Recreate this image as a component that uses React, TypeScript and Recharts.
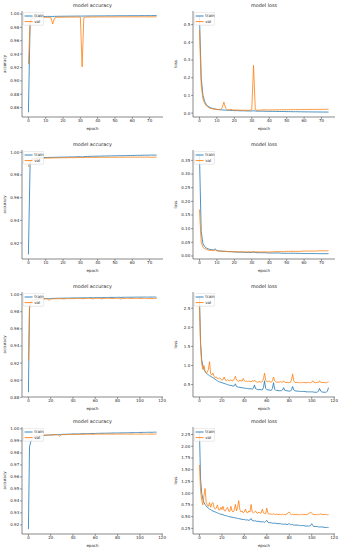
import React from 'react';
import { LineChart, Line, XAxis, YAxis, Legend, Label } from 'recharts';

// ---------- data ----------
const acc1Train = [0.853, 0.990, 0.995, 0.9955, 0.9958, 0.996, 0.9961, 0.9962, 0.9962, 0.9963,
  0.9963, 0.9964, 0.9964, 0.9964, 0.9963, 0.9965, 0.9965, 0.9966, 0.9966, 0.9966,
  0.9967, 0.9967, 0.9967, 0.9968, 0.9968, 0.9968, 0.9968, 0.9969, 0.9969, 0.9969,
  0.9969, 0.9968, 0.997, 0.997, 0.997, 0.997, 0.9971, 0.9971, 0.9971, 0.9971,
  0.9972, 0.9972, 0.9972, 0.9972, 0.9972, 0.9973, 0.9973, 0.9973, 0.9973, 0.9973,
  0.9973, 0.9974, 0.9974, 0.9974, 0.9974, 0.9974, 0.9974, 0.9974, 0.9975, 0.9975,
  0.9975, 0.9975, 0.9975, 0.9975, 0.9975, 0.9976, 0.9976, 0.9976, 0.9976, 0.9976,
  0.9976, 0.9976, 0.9977, 0.9977, 0.9977];
const acc1Val = [0.925, 0.987, 0.992, 0.9935, 0.9942, 0.9946, 0.9944, 0.9948, 0.9947, 0.995,
  0.9949, 0.9951, 0.995, 0.9945, 0.985, 0.9935, 0.995, 0.9952, 0.9951, 0.9953,
  0.9952, 0.9953, 0.9953, 0.9954, 0.9953, 0.9954, 0.9954, 0.9954, 0.9955, 0.9954,
  0.9953, 0.921, 0.995, 0.9954, 0.9955, 0.9955, 0.9955, 0.9956, 0.9955, 0.9956,
  0.9956, 0.9956, 0.9956, 0.9956, 0.9957, 0.9956, 0.9957, 0.9957, 0.9957, 0.9957,
  0.9957, 0.9957, 0.9957, 0.9957, 0.9958, 0.9957, 0.9958, 0.9958, 0.9958, 0.9958,
  0.9958, 0.9958, 0.9958, 0.9958, 0.9958, 0.9958, 0.9958, 0.9958, 0.9958, 0.9958,
  0.9958, 0.9958, 0.9958, 0.9958, 0.9958];

const loss1Train = [0.55, 0.2, 0.1, 0.065, 0.048, 0.038, 0.032, 0.028, 0.025, 0.023,
  0.021, 0.02, 0.019, 0.018, 0.017, 0.017, 0.016, 0.016, 0.015, 0.015,
  0.014, 0.014, 0.014, 0.013, 0.013, 0.013, 0.013, 0.012, 0.012, 0.012,
  0.012, 0.013, 0.012, 0.011, 0.011, 0.011, 0.011, 0.011, 0.01, 0.01,
  0.01, 0.01, 0.01, 0.0095, 0.0095, 0.0093, 0.009, 0.009, 0.009, 0.0088,
  0.0085, 0.0085, 0.0083, 0.008, 0.008, 0.008, 0.0078, 0.0075, 0.0075, 0.0073,
  0.0072, 0.007, 0.007, 0.0068, 0.0067, 0.0066, 0.0065, 0.0064, 0.0063, 0.0062,
  0.0061, 0.006, 0.006, 0.0059, 0.0058];
const loss1Val = [0.47, 0.16, 0.08, 0.055, 0.04, 0.033, 0.028, 0.025, 0.023, 0.022,
  0.021, 0.02, 0.02, 0.03, 0.062, 0.028, 0.019, 0.018, 0.022, 0.018,
  0.017, 0.017, 0.017, 0.017, 0.016, 0.016, 0.016, 0.016, 0.016, 0.016,
  0.02, 0.27, 0.02, 0.016, 0.016, 0.017, 0.018, 0.019, 0.018, 0.018,
  0.018, 0.018, 0.018, 0.018, 0.019, 0.018, 0.019, 0.019, 0.019, 0.019,
  0.019, 0.019, 0.02, 0.019, 0.02, 0.02, 0.02, 0.02, 0.02, 0.02,
  0.02, 0.021, 0.02, 0.021, 0.021, 0.021, 0.021, 0.021, 0.021, 0.021,
  0.021, 0.022, 0.021, 0.022, 0.022];

const acc2Train = [0.910, 0.992, 0.9942, 0.9946, 0.9948, 0.995, 0.9951, 0.9952, 0.9952, 0.9953,
  0.9954, 0.9954, 0.9955, 0.9955, 0.9955, 0.9956, 0.9956, 0.9956, 0.9957, 0.9957,
  0.9957, 0.9958, 0.9958, 0.9958, 0.9959, 0.9959, 0.9959, 0.996, 0.996, 0.9961,
  0.9962, 0.9958, 0.9962, 0.9963, 0.9963, 0.9964, 0.9964, 0.9965, 0.9965, 0.9965,
  0.9966, 0.9966, 0.9966, 0.9967, 0.9967, 0.9967, 0.9968, 0.9968, 0.9968, 0.9969,
  0.9969, 0.9969, 0.997, 0.997, 0.997, 0.997, 0.9971, 0.9971, 0.9971, 0.9972,
  0.9972, 0.9972, 0.9973, 0.9973, 0.9973, 0.9973, 0.9974, 0.9974, 0.9974, 0.9974,
  0.9975, 0.9975, 0.9975, 0.9975, 0.9975];
const acc2Val = [0.987, 0.9925, 0.9935, 0.994, 0.9942, 0.9944, 0.9945, 0.9946, 0.9947, 0.9948,
  0.9948, 0.9949, 0.9949, 0.995, 0.995, 0.995, 0.9951, 0.9951, 0.9951, 0.9952,
  0.9952, 0.9952, 0.9951, 0.9953, 0.9953, 0.9953, 0.9952, 0.9953, 0.9954, 0.9954,
  0.9954, 0.9953, 0.9954, 0.9954, 0.9955, 0.9955, 0.9955, 0.9954, 0.9955, 0.9955,
  0.9955, 0.9955, 0.9956, 0.9956, 0.9956, 0.9955, 0.9956, 0.9956, 0.9956, 0.9956,
  0.9956, 0.9956, 0.9956, 0.9957, 0.9957, 0.9956, 0.9957, 0.9957, 0.9957, 0.9957,
  0.9957, 0.9957, 0.9957, 0.9956, 0.9957, 0.9957, 0.9957, 0.9957, 0.9957, 0.9957,
  0.9957, 0.9956, 0.9957, 0.9957, 0.9957];

const loss2Train = [0.37, 0.09, 0.045, 0.034, 0.029, 0.026, 0.024, 0.023, 0.022, 0.026,
  0.02, 0.019, 0.018, 0.018, 0.017, 0.017, 0.016, 0.016, 0.016, 0.015,
  0.015, 0.015, 0.014, 0.014, 0.014, 0.014, 0.013, 0.013, 0.013, 0.013,
  0.013, 0.014, 0.013, 0.012, 0.012, 0.012, 0.012, 0.012, 0.012, 0.011,
  0.011, 0.011, 0.011, 0.011, 0.011, 0.011, 0.011, 0.01, 0.01, 0.01,
  0.01, 0.01, 0.01, 0.01, 0.01, 0.01, 0.0095, 0.0095, 0.0095, 0.0093,
  0.009, 0.009, 0.009, 0.009, 0.009, 0.0088, 0.0088, 0.0087, 0.0087, 0.0086,
  0.0086, 0.0085, 0.0085, 0.0085, 0.0085];
const loss2Val = [0.17, 0.05, 0.032, 0.027, 0.024, 0.022, 0.021, 0.02, 0.02, 0.022,
  0.019, 0.018, 0.018, 0.017, 0.017, 0.017, 0.016, 0.016, 0.016, 0.016,
  0.016, 0.015, 0.015, 0.015, 0.015, 0.015, 0.015, 0.015, 0.015, 0.015,
  0.015, 0.016, 0.015, 0.015, 0.015, 0.015, 0.015, 0.015, 0.015, 0.015,
  0.015, 0.015, 0.015, 0.016, 0.016, 0.016, 0.016, 0.016, 0.016, 0.016,
  0.017, 0.017, 0.017, 0.017, 0.017, 0.017, 0.017, 0.017, 0.017, 0.018,
  0.018, 0.018, 0.018, 0.018, 0.018, 0.018, 0.018, 0.018, 0.019, 0.019,
  0.019, 0.019, 0.019, 0.019, 0.019];

const acc3Train = [0.886, 0.984, 0.991, 0.9928, 0.9936, 0.994, 0.9943, 0.9945, 0.9947, 0.9948,
  0.995, 0.9951, 0.9952, 0.9952, 0.9953, 0.9954, 0.9954, 0.9955, 0.9955, 0.9953,
  0.9955, 0.9956, 0.9956, 0.9957, 0.9957, 0.9957, 0.9958, 0.9958, 0.9958, 0.9959,
  0.9959, 0.9959, 0.9958, 0.996, 0.996, 0.996, 0.996, 0.9961, 0.9961, 0.9961,
  0.9961, 0.9962, 0.9962, 0.9962, 0.9962, 0.9963, 0.9963, 0.9963, 0.9963, 0.9961,
  0.9964, 0.9964, 0.9964, 0.9964, 0.9965, 0.9965, 0.9965, 0.9964, 0.9962, 0.9965,
  0.9966, 0.9966, 0.9966, 0.9966, 0.9966, 0.9965, 0.9963, 0.9966, 0.9967, 0.9967,
  0.9967, 0.9967, 0.9967, 0.9968, 0.9968, 0.9967, 0.9968, 0.9968, 0.9968, 0.9968,
  0.9969, 0.9969, 0.9969, 0.9966, 0.9969, 0.9969, 0.9969, 0.997, 0.997, 0.997,
  0.997, 0.997, 0.997, 0.997, 0.997, 0.9971, 0.9971, 0.9971, 0.9971, 0.9971,
  0.9971, 0.9971, 0.9971, 0.9972, 0.9972, 0.9972, 0.9972, 0.997, 0.9972, 0.9972,
  0.9972, 0.9972, 0.9972, 0.9972, 0.9971, 0.997];
const acc3Val = [0.923, 0.985, 0.9915, 0.993, 0.9938, 0.9942, 0.9944, 0.9945, 0.9947, 0.9948,
  0.9949, 0.995, 0.995, 0.995, 0.9951, 0.9951, 0.9951, 0.9948, 0.994, 0.9935,
  0.9948, 0.9951, 0.9952, 0.9952, 0.9952, 0.9952, 0.9953, 0.9953, 0.9953, 0.9953,
  0.9953, 0.9952, 0.9949, 0.9953, 0.9954, 0.9954, 0.9954, 0.9954, 0.9953, 0.9954,
  0.9954, 0.9954, 0.9955, 0.9955, 0.9955, 0.9955, 0.9955, 0.9955, 0.9954, 0.9952,
  0.9955, 0.9955, 0.9955, 0.9955, 0.9956, 0.9956, 0.9956, 0.9954, 0.995, 0.9955,
  0.9956, 0.9956, 0.9956, 0.9956, 0.9956, 0.9954, 0.9949, 0.9955, 0.9956, 0.9956,
  0.9956, 0.9956, 0.9956, 0.9956, 0.9956, 0.9955, 0.9956, 0.9956, 0.9956, 0.9956,
  0.9956, 0.9956, 0.9953, 0.9948, 0.9955, 0.9956, 0.9956, 0.9956, 0.9956, 0.9956,
  0.9956, 0.9956, 0.9956, 0.9956, 0.9956, 0.9956, 0.9956, 0.9956, 0.9956, 0.9956,
  0.9955, 0.9956, 0.9956, 0.9956, 0.9956, 0.9956, 0.9955, 0.9953, 0.9956, 0.9956,
  0.9956, 0.9956, 0.9956, 0.9956, 0.9955, 0.9955];

const loss3Train = [2.8, 1.6, 1.15, 1.0, 0.9, 0.85, 0.8, 0.78, 0.75, 0.73,
  0.72, 0.7, 0.68, 0.66, 0.64, 0.62, 0.6, 0.58, 0.57, 0.56,
  0.55, 0.54, 0.53, 0.52, 0.51, 0.5, 0.49, 0.48, 0.48, 0.47,
  0.46, 0.47, 0.52, 0.45, 0.44, 0.43, 0.43, 0.42, 0.42, 0.41,
  0.41, 0.4, 0.4, 0.4, 0.39, 0.39, 0.39, 0.38, 0.4, 0.49,
  0.39, 0.38, 0.37, 0.37, 0.37, 0.36, 0.36, 0.42, 0.6, 0.4,
  0.37, 0.36, 0.36, 0.35, 0.35, 0.4, 0.55, 0.38, 0.35, 0.35,
  0.34, 0.34, 0.34, 0.34, 0.36, 0.42, 0.35, 0.34, 0.34, 0.33,
  0.33, 0.33, 0.36, 0.45, 0.36, 0.34, 0.33, 0.33, 0.33, 0.32,
  0.32, 0.32, 0.32, 0.32, 0.32, 0.31, 0.31, 0.31, 0.31, 0.31,
  0.31, 0.31, 0.3, 0.3, 0.3, 0.3, 0.33, 0.4, 0.33, 0.31,
  0.3, 0.3, 0.3, 0.3, 0.33, 0.42];
const loss3Val = [2.6, 1.5, 1.05, 0.9, 1.0, 0.85, 0.8, 0.82, 0.9, 1.1,
  0.78, 0.75, 0.8, 0.72, 0.68, 0.7, 0.66, 0.65, 0.68, 0.64,
  0.62, 0.63, 0.7, 0.62, 0.6, 0.63, 0.61, 0.6, 0.62, 0.6,
  0.6, 0.65, 0.72, 0.62, 0.6, 0.58, 0.62, 0.6, 0.59, 0.66,
  0.6, 0.58, 0.6, 0.57, 0.6, 0.58, 0.57, 0.6, 0.58, 0.62,
  0.58, 0.57, 0.56, 0.58, 0.57, 0.56, 0.58, 0.65, 0.8, 0.62,
  0.58, 0.57, 0.6, 0.57, 0.56, 0.6, 0.7, 0.6, 0.57, 0.56,
  0.57, 0.56, 0.58, 0.56, 0.56, 0.6, 0.56, 0.55, 0.56, 0.55,
  0.55, 0.56, 0.62, 0.78, 0.6, 0.56, 0.55, 0.56, 0.55, 0.55,
  0.56, 0.55, 0.55, 0.56, 0.55, 0.55, 0.55, 0.56, 0.55, 0.55,
  0.56, 0.6, 0.56, 0.55, 0.55, 0.56, 0.55, 0.6, 0.56, 0.55,
  0.56, 0.55, 0.55, 0.55, 0.56, 0.58];

const acc4Train = [0.9165, 0.985, 0.989, 0.991, 0.992, 0.9926, 0.993, 0.9933, 0.9936, 0.9938,
  0.994, 0.9941, 0.9943, 0.9944, 0.9945, 0.9946, 0.9947, 0.9948, 0.9948, 0.9949,
  0.995, 0.995, 0.9951, 0.9951, 0.9952, 0.9952, 0.9953, 0.9953, 0.9953, 0.9954,
  0.9954, 0.9955, 0.9955, 0.9955, 0.9956, 0.9956, 0.9956, 0.9957, 0.9957, 0.9957,
  0.9958, 0.9958, 0.9958, 0.9958, 0.9959, 0.9959, 0.9959, 0.9959, 0.996, 0.996,
  0.996, 0.996, 0.9961, 0.9961, 0.9961, 0.9961, 0.9962, 0.9962, 0.9962, 0.9962,
  0.9962, 0.9963, 0.9963, 0.9963, 0.9963, 0.9964, 0.9964, 0.9964, 0.9964, 0.9964,
  0.9965, 0.9965, 0.9965, 0.9965, 0.9965, 0.9966, 0.9966, 0.9966, 0.9966, 0.9966,
  0.9966, 0.9967, 0.9967, 0.9967, 0.9967, 0.9967, 0.9968, 0.9968, 0.9968, 0.9968,
  0.9968, 0.9968, 0.9969, 0.9969, 0.9969, 0.9969, 0.997, 0.997, 0.997, 0.997,
  0.997, 0.9971, 0.9971, 0.9971, 0.9971, 0.9971, 0.9971, 0.9972, 0.9972, 0.9972,
  0.9972, 0.9972, 0.9972, 0.9973, 0.9973, 0.9973];
const acc4Val = [0.991, 0.9925, 0.9932, 0.9936, 0.9938, 0.994, 0.9942, 0.9943, 0.9944, 0.9945,
  0.9946, 0.9946, 0.9947, 0.9947, 0.9948, 0.9948, 0.9949, 0.9949, 0.995, 0.995,
  0.995, 0.9951, 0.9951, 0.9951, 0.9952, 0.9952, 0.9951, 0.9945, 0.9938, 0.9948,
  0.9952, 0.9953, 0.9953, 0.9952, 0.9953, 0.9954, 0.9954, 0.9953, 0.9954, 0.9954,
  0.9955, 0.9955, 0.9954, 0.9955, 0.9955, 0.9955, 0.9954, 0.9955, 0.9956, 0.9956,
  0.9955, 0.9956, 0.9956, 0.9956, 0.9955, 0.9956, 0.9956, 0.9956, 0.9955, 0.9956,
  0.9956, 0.9956, 0.9957, 0.9956, 0.9957, 0.9957, 0.9957, 0.9956, 0.9957, 0.9957,
  0.9957, 0.9956, 0.9957, 0.9957, 0.9957, 0.9957, 0.9956, 0.9957, 0.9957, 0.9957,
  0.9957, 0.9957, 0.9956, 0.9957, 0.9957, 0.9957, 0.9957, 0.9956, 0.9957, 0.9957,
  0.9957, 0.9957, 0.9957, 0.9956, 0.9957, 0.9957, 0.9957, 0.9957, 0.9956, 0.9957,
  0.9957, 0.9957, 0.9957, 0.9956, 0.9957, 0.9957, 0.9957, 0.9957, 0.9956, 0.9957,
  0.9957, 0.9957, 0.9957, 0.9956, 0.9957, 0.9957];

const loss4Train = [2.3, 1.3, 1.0, 0.88, 0.8, 0.76, 0.73, 0.7, 0.68, 0.66,
  0.65, 0.63, 0.62, 0.61, 0.6, 0.59, 0.58, 0.57, 0.56, 0.55,
  0.55, 0.54, 0.53, 0.52, 0.52, 0.51, 0.5, 0.5, 0.49, 0.49,
  0.48, 0.48, 0.47, 0.47, 0.46, 0.46, 0.45, 0.45, 0.44, 0.44,
  0.44, 0.43, 0.43, 0.43, 0.42, 0.43, 0.46, 0.42, 0.41, 0.41,
  0.41, 0.4, 0.4, 0.4, 0.39, 0.39, 0.39, 0.39, 0.38, 0.4,
  0.42, 0.38, 0.37, 0.37, 0.37, 0.36, 0.36, 0.36, 0.36, 0.35,
  0.35, 0.35, 0.35, 0.34, 0.34, 0.34, 0.34, 0.34, 0.33, 0.34,
  0.35, 0.33, 0.33, 0.33, 0.32, 0.32, 0.32, 0.32, 0.32, 0.31,
  0.31, 0.31, 0.31, 0.31, 0.3, 0.3, 0.3, 0.3, 0.3, 0.31,
  0.35, 0.31, 0.29, 0.29, 0.29, 0.29, 0.28, 0.28, 0.28, 0.28,
  0.28, 0.27, 0.27, 0.27, 0.27, 0.27];
const loss4Val = [1.6, 1.05, 0.85, 0.75, 0.95, 1.1, 0.8, 0.75, 0.72, 0.8,
  0.7, 0.78, 0.8, 0.7, 0.66, 0.68, 0.75, 0.65, 0.64, 0.7,
  0.65, 0.72, 0.63, 0.62, 0.66, 0.7, 0.62, 0.61, 0.72, 0.62,
  0.6, 0.64, 0.76, 0.62, 0.7, 0.84, 0.65, 0.6, 0.62, 0.58,
  0.6, 0.66, 0.59, 0.58, 0.62, 0.6, 0.76, 0.6, 0.58, 0.6,
  0.62, 0.58, 0.57, 0.6, 0.57, 0.58, 0.66, 0.58, 0.57, 0.56,
  0.68, 0.57, 0.55, 0.56, 0.55, 0.55, 0.56, 0.55, 0.54, 0.56,
  0.54, 0.55, 0.55, 0.54, 0.55, 0.54, 0.55, 0.54, 0.56, 0.58,
  0.6, 0.56, 0.54, 0.55, 0.54, 0.55, 0.54, 0.55, 0.54, 0.54,
  0.55, 0.54, 0.55, 0.54, 0.55, 0.54, 0.55, 0.56, 0.57, 0.6,
  0.57, 0.55, 0.54, 0.55, 0.54, 0.55, 0.54, 0.55, 0.56, 0.55,
  0.54, 0.55, 0.54, 0.55, 0.54, 0.54];

// ---------- tick labels ----------
const xTicks75 = [0, 10, 20, 30, 40, 50, 60, 70];
const xTicks120 = [0, 20, 40, 60, 80, 100, 120];
const yTicksAcc1 = [0.86, 0.88, 0.90, 0.92, 0.94, 0.96, 0.98, 1.00];
const yTicksLoss1 = [0.0, 0.1, 0.2, 0.3, 0.4, 0.5];
const yTicksAcc2 = [0.92, 0.94, 0.96, 0.98, 1.00];
const yTicksLoss2 = [0.00, 0.05, 0.10, 0.15, 0.20, 0.25, 0.30, 0.35];
const yTicksAcc3 = [0.88, 0.90, 0.92, 0.94, 0.96, 0.98, 1.00];
const yTicksLoss3 = [0.5, 1.0, 1.5, 2.0, 2.5];
const yTicksAcc4 = [0.92, 0.93, 0.94, 0.95, 0.96, 0.97, 0.98, 0.99, 1.00];
const yTicksLoss4 = [0.25, 0.50, 0.75, 1.00, 1.25, 1.50, 1.75, 2.00, 2.25];

// ---------- styles ----------
const FONT = "'DejaVu Sans', sans-serif";
const TRAIN = '#1f77b4';
const VAL = '#ff7f0e';
const TXT = '#262626';
const FRAME = '#3a3a3a';
const TICK_FS = 4;
const ML = 22, MT = 12, MR = 6, MB = 22;

type PanelProps = {
  left: number; top: number; w: number; h: number;
  train: number[]; val: number[];
  xDomain: [number, number]; xTicks: number[];
  yDomain: [number, number]; yTicks: number[]; digits: number;
  title: string; ylabel: string;
};

const LegendBox = (props: any) => {
  const payload = props.payload || [];
  return (
    <svg width={21} height={13.5} style={{ display: 'block' }}>
      <rect x={0.3} y={0.3} width={20.4} height={12.9} rx={1} fill="rgba(255,255,255,0.85)" stroke="#d0d0d0" strokeWidth={0.5} />
      {payload.map((p: any, i: number) => (
        <g key={p.value}>
          <line x1={1.6} x2={9.6} y1={4 + i * 5.6} y2={4 + i * 5.6} stroke={p.color} strokeWidth={0.9} />
          <text x={11.2} y={4 + i * 5.6} dy="0.35em" fontSize={TICK_FS} fontFamily={FONT} fill={TXT}>{p.value}</text>
        </g>
      ))}
    </svg>
  );
};

function Panel(p: PanelProps) {
  const data = p.train.map((t, i) => ({ epoch: i, train: t, val: p.val[i] }));
  const tickStyle = { fontSize: TICK_FS, fill: TXT, fontFamily: FONT };
  const axisLine = { stroke: FRAME, strokeWidth: 0.6 };
  const tickLine = { stroke: FRAME, strokeWidth: 0.5 };
  return (
    <div style={{ position: 'absolute', left: p.left - ML, top: p.top - MT }}>
      <LineChart width={p.w + ML + MR} height={p.h + MT + MB} data={data}
        margin={{ top: MT, right: MR, left: 0, bottom: 0 }}>
        <XAxis dataKey="epoch" type="number" domain={p.xDomain} ticks={p.xTicks} allowDataOverflow
          interval={0} height={MB} tickSize={2} tickMargin={0.5} tick={tickStyle}
          tickLine={tickLine} axisLine={axisLine}>
          <Label content={(lp: any) => {
            const vb = lp.viewBox;
            return <text x={vb.x + vb.width / 2} y={vb.y + 13} textAnchor="middle" fontSize={TICK_FS} fontFamily={FONT} fill={TXT}>epoch</text>;
          }} />
        </XAxis>
        <XAxis xAxisId="top" orientation="top" dataKey="epoch" type="number" domain={p.xDomain} allowDataOverflow
          height={0} tick={false} tickLine={false} axisLine={axisLine} />
        <YAxis type="number" domain={p.yDomain} ticks={p.yTicks} allowDataOverflow interval={0}
          width={ML} tickSize={2} tickMargin={0.8} tick={tickStyle} tickLine={tickLine} axisLine={axisLine}
          tickFormatter={(v: number) => v.toFixed(p.digits)}>
          <Label content={(lp: any) => {
            const vb = lp.viewBox;
            const cx = vb.x + 4.5;
            const cy = vb.y + vb.height / 2;
            const tx = vb.x + vb.width + p.w / 2;
            return (
              <g>
                <text x={cx} y={cy} transform={`rotate(-90 ${cx} ${cy})`} textAnchor="middle" dy="0.35em" fontSize={TICK_FS} fontFamily={FONT} fill={TXT}>{p.ylabel}</text>
                <text x={tx} y={vb.y - 3.6} textAnchor="middle" fontSize={4.9} fontFamily={FONT} fill={TXT}>{p.title}</text>
              </g>
            );
          }} />
        </YAxis>
        <YAxis yAxisId="right" orientation="right" type="number" domain={p.yDomain} allowDataOverflow
          width={0} tick={false} tickLine={false} axisLine={axisLine} />
        <Legend layout="vertical" align="center" verticalAlign="middle" content={<LegendBox />}
          wrapperStyle={{ left: ML + 1.2, top: MT + 1, right: 'auto', bottom: 'auto', width: 21, height: 13.5 }} />
        <Line name="train" dataKey="train" stroke={TRAIN} strokeWidth={0.8} dot={false} isAnimationActive={false} />
        <Line name="val" dataKey="val" stroke={VAL} strokeWidth={0.8} dot={false} isAnimationActive={false} />
      </LineChart>
    </div>
  );
}

const COL_X = [22, 193];
const COL_W = [141, 142];
const ROWS = [
  { top: 11, h: 106 },
  { top: 150, h: 109 },
  { top: 292, h: 105 },
  { top: 427, h: 107 },
];
const X75: [number, number] = [-3.7, 77.7];
const X116: [number, number] = [-5.75, 120.75];

export default function App() {
  return (
    <div style={{ position: 'absolute', left: 0, top: 0, width: 344, height: 550, background: '#fff', overflow: 'hidden' }}>
      <Panel left={COL_X[0]} top={ROWS[0].top} w={COL_W[0]} h={ROWS[0].h} train={acc1Train} val={acc1Val}
        xDomain={X75} xTicks={xTicks75} yDomain={[0.846, 1.0045]} yTicks={yTicksAcc1} digits={2}
        title="model accuracy" ylabel="accuracy" />
      <Panel left={COL_X[1]} top={ROWS[0].top} w={COL_W[1]} h={ROWS[0].h} train={loss1Train} val={loss1Val}
        xDomain={X75} xTicks={xTicks75} yDomain={[-0.022, 0.577]} yTicks={yTicksLoss1} digits={1}
        title="model loss" ylabel="loss" />
      <Panel left={COL_X[0]} top={ROWS[1].top} w={COL_W[0]} h={ROWS[1].h} train={acc2Train} val={acc2Val}
        xDomain={X75} xTicks={xTicks75} yDomain={[0.906, 1.002]} yTicks={yTicksAcc2} digits={2}
        title="model accuracy" ylabel="accuracy" />
      <Panel left={COL_X[1]} top={ROWS[1].top} w={COL_W[1]} h={ROWS[1].h} train={loss2Train} val={loss2Val}
        xDomain={X75} xTicks={xTicks75} yDomain={[-0.011, 0.388]} yTicks={yTicksLoss2} digits={2}
        title="model loss" ylabel="loss" />
      <Panel left={COL_X[0]} top={ROWS[2].top} w={COL_W[0]} h={ROWS[2].h} train={acc3Train} val={acc3Val}
        xDomain={X116} xTicks={xTicks120} yDomain={[0.8804, 1.0031]} yTicks={yTicksAcc3} digits={2}
        title="model accuracy" ylabel="accuracy" />
      <Panel left={COL_X[1]} top={ROWS[2].top} w={COL_W[1]} h={ROWS[2].h} train={loss3Train} val={loss3Val}
        xDomain={X116} xTicks={xTicks120} yDomain={[0.175, 2.925]} yTicks={yTicksLoss3} digits={1}
        title="model loss" ylabel="loss" />
      <Panel left={COL_X[0]} top={ROWS[3].top} w={COL_W[0]} h={ROWS[3].h} train={acc4Train} val={acc4Val}
        xDomain={X116} xTicks={xTicks120} yDomain={[0.9124, 1.0016]} yTicks={yTicksAcc4} digits={2}
        title="model accuracy" ylabel="accuracy" />
      <Panel left={COL_X[1]} top={ROWS[3].top} w={COL_W[1]} h={ROWS[3].h} train={loss4Train} val={loss4Val}
        xDomain={X116} xTicks={xTicks120} yDomain={[0.13, 2.41]} yTicks={yTicksLoss4} digits={2}
        title="model loss" ylabel="loss" />
    </div>
  );
}
